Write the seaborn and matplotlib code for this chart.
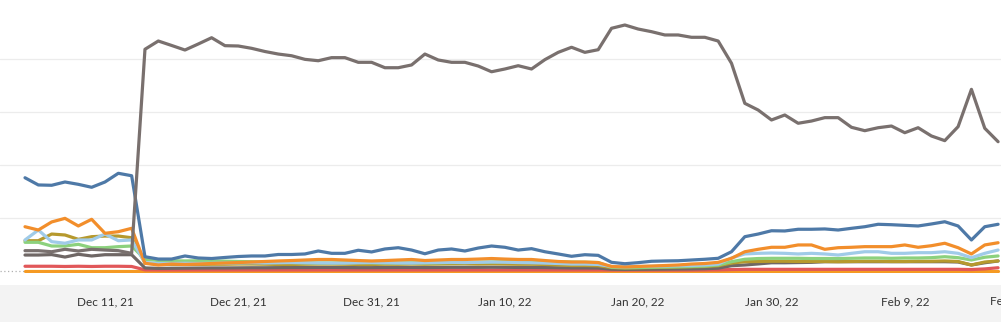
import numpy as np
import pandas as pd
import matplotlib
matplotlib.use("Agg")
import matplotlib.pyplot as plt
import seaborn as sns

# Daily values, Dec 5, 2021 .. Feb 16, 2022 (74 days)
dates = pd.date_range("2021-12-05", "2022-02-16", freq="D")

gray_top = [187, 187, 177, 200, 184, 200, 193, 187, 162,
            2087, 2165, 2123, 2080, 2137, 2196, 2121, 2118, 2096, 2066, 2042,
            2026, 1992, 1979, 2008, 2008, 1964, 1964, 1913, 1913, 1939,
            2042, 1986, 1964, 1964, 1929, 1875, 1901, 1932, 1901, 1989,
            2058, 2106, 2058, 2083, 2285, 2316, 2278, 2253, 2222, 2222,
            2200, 2200, 2165, 1955, 1577, 1514, 1420, 1467, 1389, 1410,
            1442, 1442, 1351, 1319, 1347, 1363, 1300, 1347, 1269, 1225,
            1357, 1709, 1342, 1215]

blue = [875, 807, 804, 835, 813, 785, 835, 917, 894,
        130, 108, 108, 137, 118, 113, 123, 132, 137, 137, 151,
        151, 156, 184, 162, 162, 191, 175, 203, 215, 193,
        158, 193, 203, 184, 212, 231, 219, 193, 206, 177,
        156, 134, 149, 143, 77, 64, 74, 87, 90, 92,
        99, 106, 115, 177, 319, 344, 375, 373, 389, 389,
        392, 382, 398, 413, 436, 432, 426, 420, 439, 460,
        420, 288, 413, 436]

orange = [413, 382, 458, 492, 420, 483, 351, 366, 398,
          68, 52, 61, 57, 61, 66, 71, 75, 80, 85, 90,
          94, 99, 104, 104, 99, 94, 90, 94, 99, 104,
          94, 99, 104, 104, 108, 113, 108, 104, 104, 94,
          85, 80, 80, 75, 38, 33, 38, 42, 47, 52,
          61, 66, 77, 115, 177, 200, 219, 219, 241, 241,
          200, 215, 219, 225, 225, 225, 241, 219, 234, 257,
          215, 156, 241, 262]

light_blue = [288, 382, 272, 257, 288, 288, 344, 281, 288,
              75, 66, 66, 68, 66, 68, 70, 71, 73, 71, 73,
              75, 73, 71, 70, 70, 73, 75, 73, 71, 70,
              73, 75, 77, 75, 77, 80, 78, 75, 73, 70,
              66, 61, 61, 57, 38, 35, 38, 40, 42, 45,
              47, 52, 61, 118, 156, 162, 165, 162, 156, 162,
              156, 146, 162, 177, 177, 162, 162, 168, 168, 177,
              162, 121, 162, 193]

olive = [281, 281, 344, 335, 294, 319, 325, 325, 309,
         70, 61, 57, 57, 57, 59, 59, 61, 61, 59, 57,
         57, 59, 61, 61, 59, 57, 57, 59, 59, 61,
         59, 61, 63, 63, 61, 63, 61, 59, 59, 57,
         52, 47, 47, 45, 28, 24, 26, 28, 30, 33,
         35, 38, 45, 70, 83, 85, 87, 87, 85, 85,
         85, 83, 85, 87, 87, 85, 85, 87, 87, 90,
         85, 52, 80, 90]

green = [266, 266, 231, 231, 247, 215, 215, 225, 231,
         106, 94, 92, 90, 92, 90, 88, 85, 83, 80, 78,
         75, 73, 71, 71, 73, 75, 73, 71, 71, 73,
         71, 73, 75, 75, 78, 80, 83, 85, 88, 85,
         83, 80, 78, 75, 30, 26, 28, 30, 33, 35,
         38, 42, 52, 83, 106, 113, 115, 115, 115, 113,
         113, 113, 115, 118, 118, 115, 118, 118, 121, 130,
         121, 99, 125, 137]

gray_low = [146, 146, 150, 127, 153, 137, 149, 149, 149,
            24, 20, 21, 22, 23, 24, 24, 25, 26, 26, 27,
            28, 28, 29, 29, 28, 27, 27, 28, 29, 29,
            28, 29, 30, 30, 30, 31, 30, 29, 29, 28,
            26, 24, 24, 23, 12, 10, 11, 12, 13, 14,
            15, 17, 22, 45, 52, 62, 73, 73, 75, 77,
            83, 83, 83, 83, 83, 83, 83, 83, 83, 83,
            80, 52, 73, 90]

red = [40, 40, 40, 38, 40, 38, 40, 40, 38,
       6, 5, 5, 5, 5, 5, 5, 5, 5, 5, 5,
       5, 5, 5, 5, 5, 5, 5, 5, 5, 5,
       5, 5, 5, 5, 5, 5, 5, 5, 5, 5,
       5, 5, 5, 5, 4, 4, 4, 4, 4, 4,
       4, 5, 6, 9, 11, 11, 11, 11, 11, 11,
       11, 11, 11, 11, 11, 11, 11, 11, 11, 11,
       11, 9, 15, 26]

amber = [0] * 74

tick_labels = ["Dec 11, 21", "Dec 21, 21", "Dec 31, 21", "Jan 10, 22",
               "Jan 20, 22", "Jan 30, 22", "Feb 9, 22"]
edge_label = "Feb 19, 22"

series = {
    "Amber": amber,
    "Red": red,
    "Gray 2": gray_low,
    "Olive": olive,
    "Green": green,
    "Light blue": light_blue,
    "Orange": orange,
    "Blue": blue,
    "Gray 1": gray_top,
}
palette = {
    "Amber": "#f59a23",
    "Red": "#e15759",
    "Gray 2": "#6f6765",
    "Olive": "#b6992d",
    "Green": "#8cd17d",
    "Light blue": "#a0cbe8",
    "Orange": "#f28e2b",
    "Blue": "#4e79a7",
    "Gray 1": "#79706e",
}

df = pd.concat(
    [pd.DataFrame({"date": dates, "value": vals, "series": name})
     for name, vals in series.items()],
    ignore_index=True,
)

sns.set_theme(style="white")
plt.rcParams["font.family"] = ["Lato", "DejaVu Sans"]

W, H = 1001, 322
fig = plt.figure(figsize=(W / 100, H / 100), dpi=100, facecolor="white")

# light gray band behind the date axis
band = plt.Rectangle((0, 0), 1, 37 / H, transform=fig.transFigure,
                     facecolor="#f3f3f3", edgecolor="none", zorder=-5)
fig.patches.append(band)

ax = fig.add_axes([0, 49 / H, 1, 273 / H])
ax.set_facecolor("white")

sns.lineplot(data=df, x="date", y="value", hue="series", hue_order=list(series),
             palette=palette, linewidth=2.3, legend=False, ax=ax,
             solid_capstyle="round", solid_joinstyle="round")

px_per_day = 13.33
x0 = dates[0] - pd.Timedelta(days=25 / px_per_day)
x1 = dates[0] + pd.Timedelta(days=(W - 25) / px_per_day)
ax.set_xlim(x0, x1)

px_per_unit = 53 / 500
ax.set_ylim(-2.5 / px_per_unit, 270.5 / px_per_unit)

for v in [500, 1000, 1500, 2000]:
    ax.axhline(v, color="#ececec", linewidth=0.9, zorder=0)
ax.axhline(0, color="#b0b0b0", linewidth=0.9, linestyle=(0, (1, 2)), zorder=0)

for s in ax.spines.values():
    s.set_visible(False)
ax.set_yticks([])
ax.set_xlabel("")
ax.set_ylabel("")

tick_dates = pd.date_range("2021-12-11", periods=len(tick_labels), freq="10D")
ax.set_xticks(tick_dates)
ax.set_xticklabels(tick_labels)
ax.tick_params(axis="x", length=0, pad=16.7, labelsize=8.5, labelcolor="#333333")

# the next date label sits at the right edge and runs past it
fig.text(990 / W, 1 - 301 / H, edge_label, ha="left", va="center",
         fontsize=8.5, color="#333333")

fig.savefig("out.png", dpi=100, facecolor="white")
